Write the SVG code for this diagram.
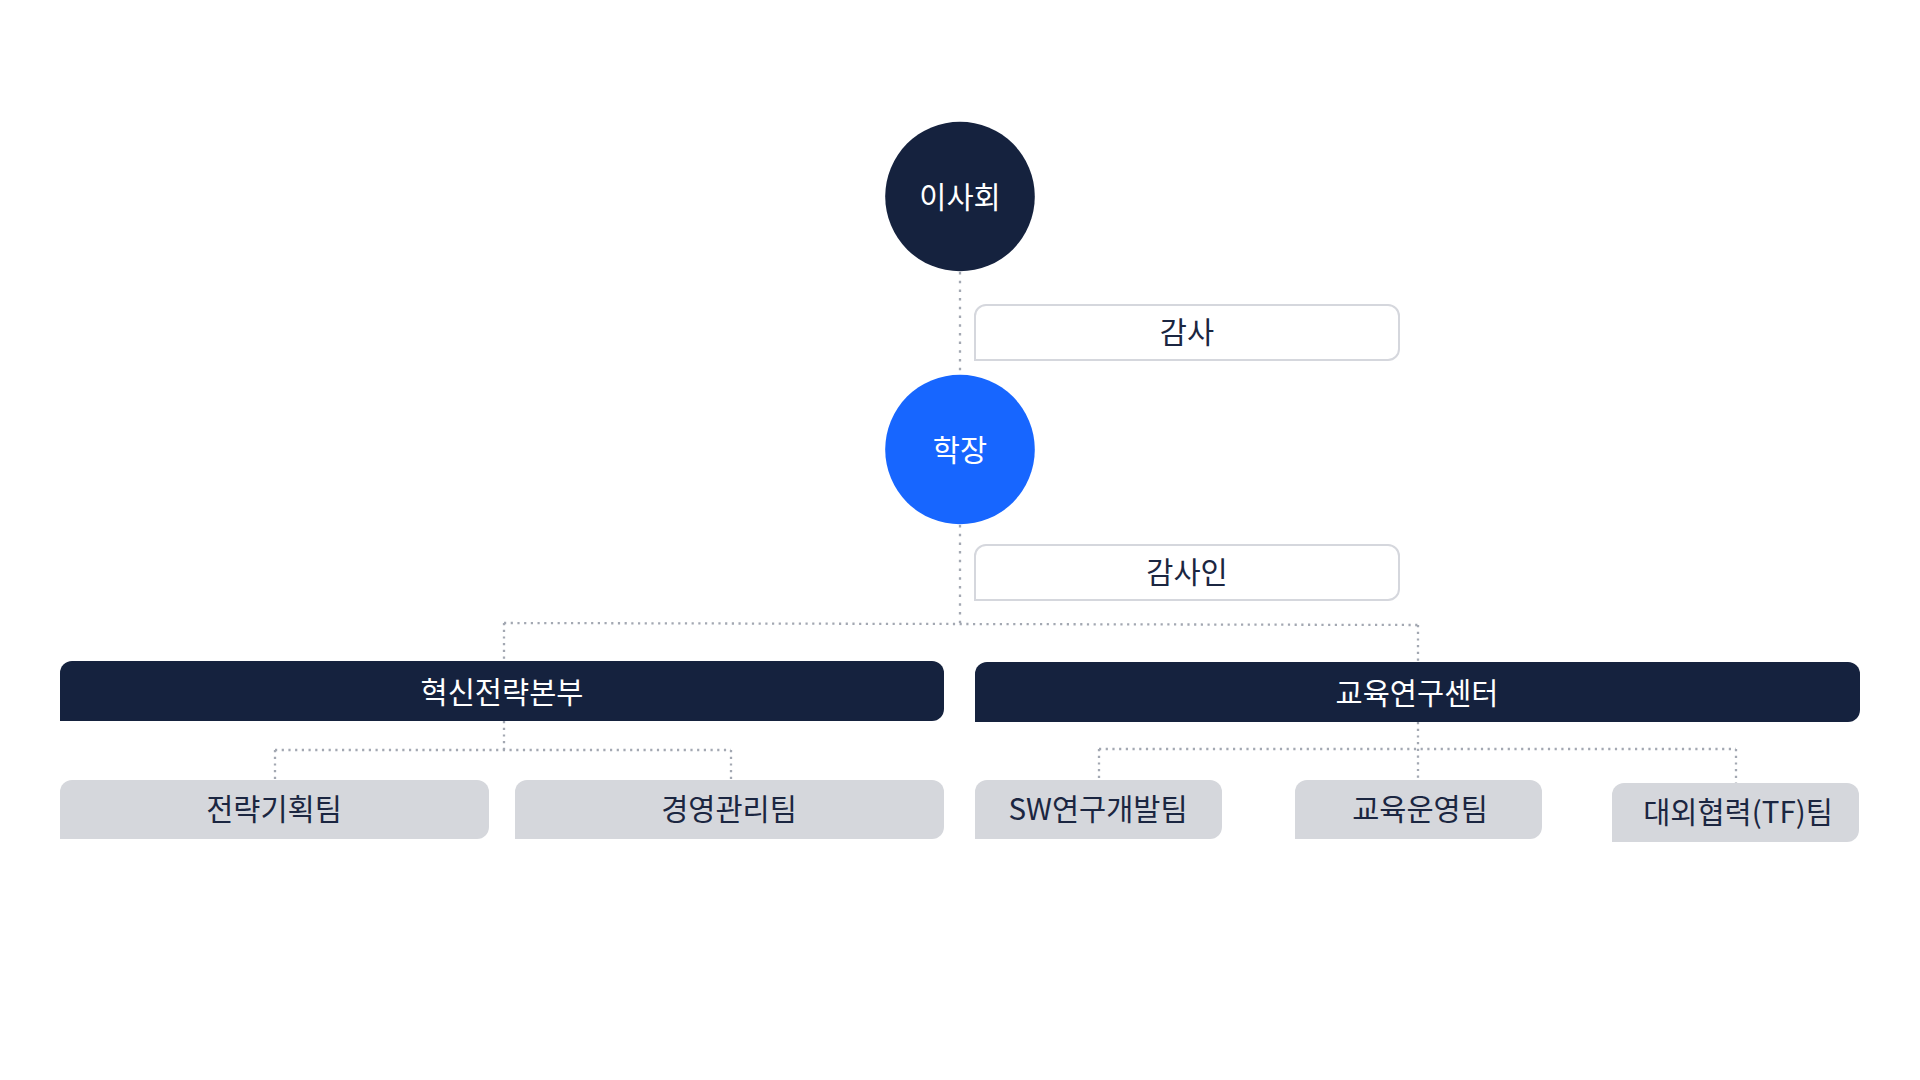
<svg xmlns="http://www.w3.org/2000/svg" width="1920" height="1080" viewBox="0 0 1920 1080">
<style>
text{font-family:"Noto Sans CJK KR","Noto Sans",sans-serif;font-size:29.5px;text-anchor:middle;dominant-baseline:central}
.w{fill:#ffffff;font-weight:400}
.d{fill:#1b2641}
.dark{fill:#15223e}
.gray{fill:#d5d7dc}
.out{fill:#ffffff;stroke:#d5d7dd;stroke-width:2}
.c{fill:none;stroke:#a3a8b2;stroke-width:2.3}
.c1{stroke-dasharray:2.5 6.2}
.c2{stroke-dasharray:2.2 4.5}
</style>
<rect width="1920" height="1080" fill="#ffffff"/>
<g id="connectors">
<path class="c c1" d="M960,272 V375"/>
<path class="c c1" d="M960,525 V623"/>
<path class="c c2" d="M504,623 L1418,625"/>
<path class="c c2" d="M504,623 V661"/>
<path class="c c2" d="M1418,625 V662"/>
<path class="c c2" d="M504,721 V750"/>
<path class="c c2" d="M275,750 H731"/>
<path class="c c2" d="M275,750 V780"/>
<path class="c c2" d="M731,750 V780"/>
<path class="c c2" d="M1418,722 V780"/>
<path class="c c2" d="M1099,749 H1736"/>
<path class="c c2" d="M1099,749 V780"/>
<path class="c c2" d="M1736,749 V783"/>
</g>
<g id="board">
<circle cx="960" cy="196.5" r="74.8" fill="#15223e"/>
<text class="w" x="960" y="195">이사회</text>
</g>
<g id="auditor">
<path class="out" d="M986,305 H1388 A11,11 0 0 1 1399,316 V349 A11,11 0 0 1 1388,360 H975 V316 A11,11 0 0 1 986,305 Z"/>
<text class="d" x="1187" y="330">감사</text>
</g>
<g id="president">
<circle cx="960" cy="449.5" r="74.8" fill="#1766ff"/>
<text class="w" x="960" y="448">학장</text>
</g>
<g id="audit-firm">
<path class="out" d="M986,545 H1388 A11,11 0 0 1 1399,556 V589 A11,11 0 0 1 1388,600 H975 V556 A11,11 0 0 1 986,545 Z"/>
<text class="d" x="1187" y="569.5">감사인</text>
</g>
<g id="innovation-hq">
<path class="dark" d="M72,661 H932 A12,12 0 0 1 944,673 V709 A12,12 0 0 1 932,721 H60 V673 A12,12 0 0 1 72,661 Z"/>
<text class="w" x="502" y="689.5">혁신전략본부</text>
</g>
<g id="edu-research-center">
<path class="dark" d="M987,662 H1848 A12,12 0 0 1 1860,674 V710 A12,12 0 0 1 1848,722 H975 V674 A12,12 0 0 1 987,662 Z"/>
<text class="w" x="1417" y="690.5">교육연구센터</text>
</g>
<g id="strategy-team">
<path class="gray" d="M72,780 H477 A12,12 0 0 1 489,792 V827 A12,12 0 0 1 477,839 H60 V792 A12,12 0 0 1 72,780 Z"/>
<text class="d" x="274" y="807">전략기획팀</text>
</g>
<g id="management-team">
<path class="gray" d="M527,780 H932 A12,12 0 0 1 944,792 V827 A12,12 0 0 1 932,839 H515 V792 A12,12 0 0 1 527,780 Z"/>
<text class="d" x="729" y="807">경영관리팀</text>
</g>
<g id="sw-team">
<path class="gray" d="M987,780 H1210 A12,12 0 0 1 1222,792 V827 A12,12 0 0 1 1210,839 H975 V792 A12,12 0 0 1 987,780 Z"/>
<text class="d" x="1098" y="807">SW연구개발팀</text>
</g>
<g id="edu-ops-team">
<path class="gray" d="M1307,780 H1530 A12,12 0 0 1 1542,792 V827 A12,12 0 0 1 1530,839 H1295 V792 A12,12 0 0 1 1307,780 Z"/>
<text class="d" x="1420" y="807">교육운영팀</text>
</g>
<g id="external-team">
<path class="gray" d="M1624,783 H1847 A12,12 0 0 1 1859,795 V830 A12,12 0 0 1 1847,842 H1612 V795 A12,12 0 0 1 1624,783 Z"/>
<text class="d" x="1738" y="810">대외협력(TF)팀</text>
</g>
</svg>
